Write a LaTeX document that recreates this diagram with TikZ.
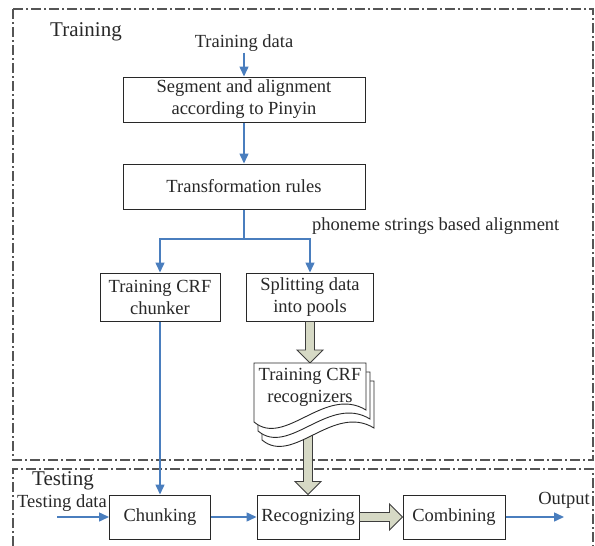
\documentclass[tikz,border=0pt]{standalone}
\usepackage{fontspec}
\setmainfont{Liberation Serif}
\usepackage{xcolor}
\usepackage{tikz}
\usetikzlibrary{arrows.meta}
\usetikzlibrary{calc}

\definecolor{flowblue}{RGB}{74,126,190}
\definecolor{fatfill}{RGB}{214,217,197}
\definecolor{framegray}{RGB}{85,85,85}
\definecolor{inkgray}{RGB}{40,40,40}

\newcommand{\fatarrow}[2]{%
  \coordinate (fab) at ($(#2)!13pt!(#1)$);
  \filldraw[fat] ($(#1)!4.5pt!90:(#2)$) -- ($(fab)!4.5pt!90:(#2)$)
    -- ($(fab)!13pt!90:(#2)$) -- (#2) -- ($(fab)!13pt!-90:(#2)$)
    -- ($(fab)!4.5pt!-90:(#2)$) -- ($(#1)!4.5pt!-90:(#2)$) -- cycle;}

\begin{document}
\begin{tikzpicture}
[x=1pt,y=-1pt,
proc/.style={rectangle,draw=inkgray,fill=white,line width=1pt,inner sep=0pt,align=center,text=inkgray,font=\fontsize{18.5}{22}\selectfont},
lbl/.style={inner sep=1pt,align=center,text=inkgray,font=\fontsize{18.5}{22}\selectfont},
tag/.style={inner sep=0pt,text=inkgray,font=\fontsize{21}{24}\selectfont},
frame/.style={draw=framegray,line width=1.1pt,dash pattern=on 10pt off 3pt on 2pt off 3pt},
flow/.style={draw=flowblue,line width=1.5pt,-{Triangle[length=10pt,width=9pt]}},
fat/.style={draw=inkgray!90,fill=fatfill,line width=0.9pt,line join=miter},
page/.style={draw=inkgray,fill=white,line width=0.9pt}]

\useasboundingbox (0,0) rectangle (595,546);

\draw [frame] (13,9) rectangle (593,460);
\draw [frame] (13,546) -- (13,469) -- (593,469) -- (593,546);
\node at (86,32)  [tag] (trainlbl) {Training};
\node at (63,481) [tag] (testlbl)  {Testing};

\node at (244,43)    [lbl] (trdata) {Training data};
\node at (244,99.5)  [proc,minimum width=242pt,minimum height=45pt] (seg)   {Segment and alignment\\according to Pinyin};
\node at (244,186.5) [proc,minimum width=242pt,minimum height=45pt] (trans) {Transformation rules};
\draw [flow] (trdata.south) to (seg.north);
\draw [flow] (seg.south) to (trans.north);

\coordinate (fork) at (244,239);
\node at (312,226) [lbl,anchor=west,inner sep=0pt] (phon) {phoneme strings based alignment};
\node at (160,297) [proc,minimum width=120pt,minimum height=48pt] (chunker) {Training CRF\\chunker};
\node at (310,297) [proc,minimum width=127pt,minimum height=48pt] (split)   {Splitting data\\into pools};
\draw [draw=flowblue,line width=1.5pt] (trans.south) to (fork);
\draw [flow] (fork) -| (chunker.north);
\draw [flow] (fork) -| (split.north);

\node at (160,517) [proc,minimum width=101pt,minimum height=44pt] (chunking) {Chunking};
\node at (308,517) [proc,minimum width=102pt,minimum height=44pt] (recog)    {Recognizing};
\node at (454,517) [proc,minimum width=102pt,minimum height=44pt] (comb)     {Combining};

\coordinate (doctop) at (310,363);
\coordinate (docbot) at (308,425);
\fatarrow{split.south}{doctop}
\fatarrow{docbot}{recog.north}
\foreach \d in {2,1,0}
  \filldraw [page,shift={(4*\d,9*\d)}] (254,363) -- (366,363) -- (366,410)
    .. controls (325,385) and (285,448) .. (254,422) -- cycle;
\node at (310,387) [lbl] (trainrec) {Training CRF\\recognizers};

\draw [flow] (chunker.south) to (chunking.north);

\node at (62,503) [lbl] (tsdata) {Testing data};
\coordinate (tsin) at (57,517);
\draw [flow] (tsin) to (chunking.west);
\draw [flow] (chunking.east) to (recog.west);
\fatarrow{recog.east}{comb.west}
\node at (564,500) [lbl] (outlbl) {Output};
\coordinate (outend) at (564,517);
\draw [flow] (comb.east) to (outend);
\end{tikzpicture}
\end{document}
